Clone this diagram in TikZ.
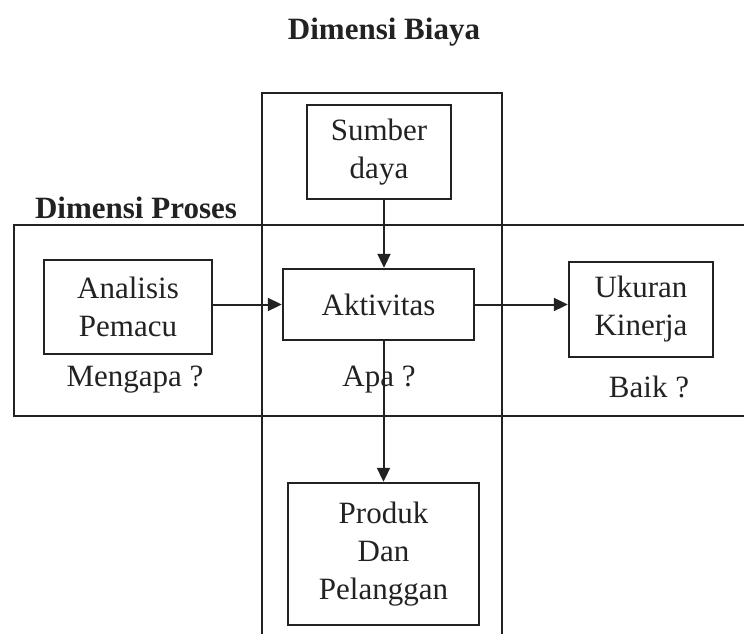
\documentclass[tikz,border=0pt]{standalone}
\usepackage{fontspec}
\setmainfont{Liberation Serif}
\usetikzlibrary{arrows.meta}
\definecolor{ink}{HTML}{222222}
\tikzset{
  box/.style={draw=ink, line width=2.4pt, fill=white, align=center, inner sep=0pt, text=ink, font=\fontsize{31}{38}\selectfont},
  lbl/.style={text=ink, font=\fontsize{31}{36}\selectfont},
  head/.style={text=ink, font=\fontsize{31}{36}\selectfont\bfseries},
  frame/.style={draw=ink, line width=2.6pt},
  arr/.style={draw=ink, line width=2pt, -{Triangle[length=14pt,width=13pt]}}
}
\begin{document}
\begin{tikzpicture}[x=1pt,y=-1pt]
\useasboundingbox (0,0) rectangle (744,634);
\begin{scope}
\clip (0,0) rectangle (744,634);
\draw[frame] (262,93) rectangle (502,650);
\draw[frame] (14,225) rectangle (760,416);
\end{scope}
\node[head] (title) at (384,32) {Dimensi Biaya};
\node[head] (proses) at (136,208) {Dimensi Proses};
\node[box, minimum width=144pt, minimum height=94pt] (sumber) at (379,152) {Sumber\\daya};
\node[box, minimum width=168pt, minimum height=94pt] (analisis) at (128,307) {Analisis\\Pemacu};
\node[box, minimum width=191pt, minimum height=71pt] (aktivitas) at (378.5,304.5) {Aktivitas};
\node[box, minimum width=144pt, minimum height=95pt] (ukuran) at (641,309.5) {Ukuran\\Kinerja};
\node[box, minimum width=191pt, minimum height=142pt] (produk) at (383.5,554) {Produk\\Dan\\Pelanggan};
\node[lbl] (mengapa) at (135,380) {Mengapa ?};
\node[lbl] (apa) at (379,380) {Apa ?};
\node[lbl] (baik) at (649,387) {Baik ?};
\draw[arr] ([xshift=5pt]sumber.south) -- ([xshift=5pt]sumber.south |- aktivitas.north);
\draw[arr] (analisis.east |- aktivitas.west) -- (aktivitas.west);
\draw[arr] (aktivitas.east) -- (aktivitas.east -| ukuran.west);
\draw[arr] (produk.north |- aktivitas.south) -- (produk.north);
\end{tikzpicture}
\end{document}
